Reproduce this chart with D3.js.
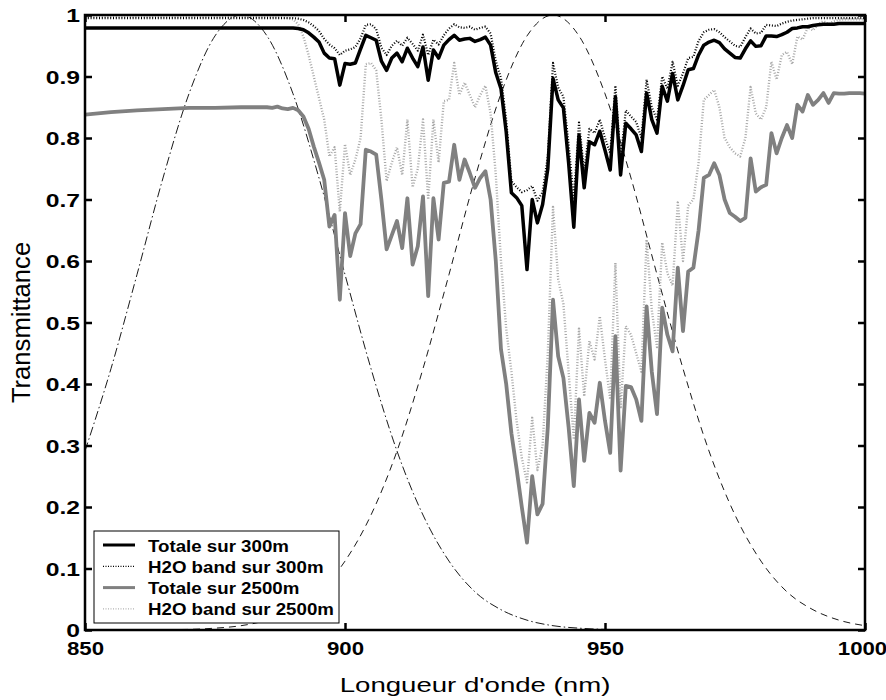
<!DOCTYPE html>
<html><head><meta charset="utf-8">
<script src="https://cdn.jsdelivr.net/npm/d3@7"></script>
<style>body{margin:0;background:#fff}svg{display:block}</style>
</head><body><svg id="chart" width="886" height="700"></svg>
<script>
// ---------- DATA ----------
const wavelengths = [850,855,860,865,870,875,880,885,886,887,888,889,890,891,892,893,894,895,896,897,898,899,
900,901,902,903,904,905,906,907,908,909,910,911,912,913,914,915,916,917,918,919,920,921,922,923,924,925,926,927,928,929,
930,931,932,933,934,935,936,937,938,939,940,941,942,943,944,945,946,947,948,949,950,951,952,953,954,955,956,957,958,959,
960,961,962,963,964,965,966,967,968,969,970,971,972,973,974,975,976,977,978,979,980,981,982,983,984,985,986,987,988,989,
990,991,992,993,994,995,996,997,998,999,1000];

const totale300 = [0.979,0.979,0.979,0.979,0.979,0.979,0.979,0.979,0.979,0.979,0.979,0.979,0.979,0.978,0.976,0.971,0.964,0.956,0.938,0.930,0.929,0.886,
0.921,0.920,0.922,0.945,0.967,0.963,0.959,0.925,0.910,0.930,0.938,0.924,0.946,0.930,0.916,0.948,0.894,0.943,0.930,0.951,0.960,0.967,0.959,0.961,0.962,0.957,0.960,0.964,0.951,0.906,
0.880,0.810,0.711,0.703,0.690,0.586,0.700,0.662,0.692,0.750,0.897,0.862,0.849,0.760,0.655,0.805,0.719,0.794,0.789,0.811,0.780,0.748,0.867,0.740,0.824,0.815,0.805,0.778,0.873,0.830,
0.808,0.884,0.860,0.905,0.862,0.885,0.911,0.913,0.935,0.951,0.956,0.959,0.955,0.945,0.938,0.931,0.930,0.945,0.958,0.949,0.950,0.966,0.966,0.965,0.968,0.972,0.978,0.979,0.981,0.981,
0.983,0.984,0.985,0.985,0.985,0.986,0.986,0.986,0.986,0.986,0.986];

const h2o300 = [0.995,0.995,0.995,0.995,0.995,0.995,0.995,0.995,0.995,0.995,0.995,0.995,0.995,0.994,0.992,0.988,0.982,0.974,0.961,0.952,0.946,0.935,
0.942,0.944,0.948,0.962,0.984,0.985,0.977,0.947,0.935,0.950,0.958,0.950,0.963,0.953,0.942,0.968,0.935,0.960,0.952,0.967,0.978,0.985,0.980,0.979,0.981,0.976,0.979,0.981,0.970,0.925,
0.897,0.830,0.730,0.720,0.712,0.715,0.722,0.698,0.712,0.770,0.922,0.882,0.867,0.790,0.700,0.825,0.745,0.815,0.808,0.830,0.800,0.775,0.885,0.765,0.845,0.835,0.826,0.800,0.895,0.850,
0.830,0.900,0.880,0.924,0.885,0.905,0.930,0.932,0.958,0.972,0.976,0.977,0.972,0.964,0.957,0.950,0.948,0.964,0.978,0.970,0.971,0.984,0.983,0.982,0.986,0.989,0.991,0.992,0.993,0.994,
0.995,0.995,0.995,0.995,0.995,0.995,0.995,0.995,0.995,0.995,0.995];

const totale2500 = [0.838,0.842,0.845,0.847,0.849,0.849,0.850,0.850,0.849,0.851,0.848,0.847,0.849,0.845,0.835,0.815,0.786,0.760,0.732,0.656,0.675,0.537,
0.678,0.608,0.645,0.660,0.781,0.778,0.773,0.700,0.619,0.642,0.665,0.621,0.702,0.594,0.624,0.705,0.543,0.702,0.635,0.727,0.729,0.789,0.732,0.765,0.743,0.719,0.735,0.746,0.700,0.600,
0.456,0.400,0.320,0.262,0.200,0.142,0.250,0.188,0.205,0.330,0.537,0.445,0.410,0.330,0.234,0.375,0.275,0.353,0.337,0.402,0.340,0.288,0.478,0.259,0.397,0.395,0.375,0.340,0.526,0.420,
0.351,0.524,0.480,0.453,0.589,0.486,0.583,0.589,0.650,0.735,0.740,0.759,0.740,0.700,0.678,0.672,0.665,0.670,0.767,0.713,0.720,0.724,0.808,0.775,0.800,0.821,0.800,0.854,0.843,0.870,
0.854,0.862,0.873,0.857,0.873,0.872,0.872,0.873,0.873,0.873,0.872];

const h2o2500 = [0.997,0.997,0.997,0.997,0.997,0.997,0.997,0.997,0.997,0.996,0.996,0.995,0.993,0.985,0.965,0.935,0.900,0.865,0.830,0.770,0.785,0.680,
0.790,0.740,0.765,0.800,0.920,0.922,0.910,0.830,0.730,0.760,0.785,0.740,0.830,0.720,0.750,0.830,0.700,0.830,0.760,0.860,0.862,0.922,0.870,0.890,0.870,0.850,0.870,0.885,0.840,0.740,
0.600,0.490,0.420,0.340,0.280,0.240,0.345,0.260,0.300,0.450,0.688,0.570,0.530,0.420,0.310,0.490,0.380,0.470,0.440,0.510,0.440,0.375,0.597,0.360,0.494,0.480,0.450,0.420,0.635,0.520,
0.460,0.630,0.580,0.560,0.695,0.600,0.690,0.700,0.760,0.862,0.870,0.878,0.850,0.800,0.785,0.775,0.770,0.800,0.883,0.840,0.830,0.850,0.924,0.895,0.935,0.940,0.920,0.965,0.960,0.980,
0.975,0.985,0.990,0.985,0.990,0.992,0.993,0.993,0.993,0.993,0.993];

// filter response curves (sampled every 5 nm)
const filterWavelengths = [850,855,860,865,870,875,880,885,890,895,900,905,910,915,920,925,930,935,940,945,950,955,960,965,970,975,980,985,990,995,1000];
const filter880 = [0.291,0.425,0.578,0.735,0.872,0.966,1,0.966,0.872,0.735,0.578,0.425,0.291,0.187,0.112,0.062,0.033,0.016,0.007,0.003,0.001,0.0005,0.0002,0,0,0,0,0,0,0,0];
const filter940 = [0,0,0.0002,0.0005,0.001,0.003,0.007,0.016,0.033,0.062,0.112,0.187,0.291,0.425,0.578,0.735,0.872,0.966,1,0.966,0.872,0.735,0.578,0.425,0.291,0.187,0.112,0.062,0.033,0.016,0.007];

const xTicks = [850,900,950,1000];
const yTicks = [0,0.1,0.2,0.3,0.4,0.5,0.6,0.7,0.8,0.9,1];
const yTickLabels = ["0","0.1","0.2","0.3","0.4","0.5","0.6","0.7","0.8","0.9","1"];
const legendLabels = ["Totale sur 300m","H2O band sur 300m","Totale sur 2500m","H2O band sur 2500m"];
const xTitle = "Longueur d'onde (nm)";
const yTitle = "Transmittance";

// ---------- LAYOUT ----------
const W = 886, H = 700;
const m = {left:85, top:15, right:21, bottom:70};
const pw = W - m.left - m.right, ph = H - m.top - m.bottom;
const svg = d3.select("#chart");
const x = d3.scaleLinear().domain([850,1000]).range([0,pw]);
const y = d3.scaleLinear().domain([0,1]).range([ph,0]);
const g = svg.append("g").attr("transform",`translate(${m.left},${m.top})`);

g.append("clipPath").attr("id","clip").append("rect").attr("width",pw).attr("height",ph);

const styles = [
  {data: h2o2500, color:"#a8a8a8", width:2.4, dash:"1,1.8"},
  {data: totale2500, color:"#808080", width:3.8, dash:null},
  {data: h2o300, color:"#000", width:2.2, dash:"1,1.8"},
  {data: totale300, color:"#000", width:3.5, dash:null}
];
const line = d3.line().x(d=>x(d[0])).y(d=>y(d[1]));
const plot = g.append("g").attr("clip-path","url(#clip)");

// filter curves
const fline = d3.line().x(d=>x(d[0])).y(d=>y(d[1])).curve(d3.curveMonotoneX);
plot.append("path").datum(filterWavelengths.map((w,i)=>[w,filter880[i]]))
  .attr("d",fline).attr("fill","none").attr("stroke","#000").attr("stroke-width",0.9)
  .attr("stroke-dasharray","9,3,1.5,3");
plot.append("path").datum(filterWavelengths.map((w,i)=>[w,filter940[i]]))
  .attr("d",fline).attr("fill","none").attr("stroke","#000").attr("stroke-width",0.9)
  .attr("stroke-dasharray","7,5");

styles.forEach(s=>{
  plot.append("path").datum(wavelengths.map((w,i)=>[w,s.data[i]]))
    .attr("d",line).attr("fill","none").attr("stroke",s.color)
    .attr("stroke-width",s.width).attr("stroke-linejoin","round")
    .attr("stroke-dasharray",s.dash);
});

// axes (ticks inward)
const tickFont = "'Liberation Sans', Arial, sans-serif";
const xb = g.append("g").attr("transform",`translate(0,${ph})`)
  .call(d3.axisBottom(x).tickValues(xTicks).tickSizeInner(-7).tickSizeOuter(0).tickFormat(d3.format("d")));
const xt = g.append("g").call(d3.axisTop(x).tickValues(xTicks).tickSizeInner(-7).tickSizeOuter(0).tickFormat(""));
const yl = g.append("g").call(d3.axisLeft(y).tickValues(yTicks).tickSizeInner(-7).tickSizeOuter(0).tickFormat((d,i)=>yTickLabels[i]));
const yr = g.append("g").attr("transform",`translate(${pw},0)`)
  .call(d3.axisRight(y).tickValues(yTicks).tickSizeInner(-7).tickSizeOuter(0).tickFormat(""));
[xb,xt,yl,yr].forEach(a=>{
  a.select(".domain").remove();
  a.selectAll(".tick line").attr("stroke","#000").attr("stroke-width",2.5);
});
xb.selectAll(".tick text").attr("y",null).attr("dy",null)
  .attr("transform",(d,i)=>`translate(${i===xTicks.length-1?-3:0},25) scale(1.17,1)`)
  .attr("font-family",tickFont).attr("font-weight","bold").attr("font-size",19).attr("fill","#000");
yl.selectAll(".tick text").attr("x",null).attr("dy",null)
  .attr("transform","translate(-5,6.5) scale(1.3,1)")
  .attr("font-family",tickFont).attr("font-weight","bold").attr("font-size",19).attr("fill","#000")
  .attr("text-anchor","end");

g.append("rect").attr("width",pw).attr("height",ph).attr("fill","none")
  .attr("stroke","#000").attr("stroke-width",2.5);

// axis titles
svg.append("text").attr("transform",`translate(${m.left+pw/2},692) scale(1.38,1)`)
  .attr("text-anchor","middle").attr("font-family",tickFont).attr("font-size",20).text(xTitle);
svg.append("text").attr("transform",`translate(30,${m.top+ph/2}) rotate(-90) scale(1.28,1.3)`)
  .attr("text-anchor","middle").attr("font-family",tickFont).attr("font-size",20).text(yTitle);

// legend
const lg = svg.append("g").attr("transform","translate(94,531)");
lg.append("rect").attr("width",245).attr("height",92).attr("fill","#fff").attr("stroke","#000").attr("stroke-width",1);
const legStyles = [
  {color:"#000", width:3, dash:null},
  {color:"#000", width:1.3, dash:"1,1.5"},
  {color:"#808080", width:3, dash:null},
  {color:"#b2b2b2", width:1.3, dash:"1,1.5"}
];
legendLabels.forEach((lab,i)=>{
  const yy = 14 + i*21.3;
  lg.append("line").attr("x1",9).attr("x2",41).attr("y1",yy).attr("y2",yy)
    .attr("stroke",legStyles[i].color).attr("stroke-width",legStyles[i].width)
    .attr("stroke-dasharray",legStyles[i].dash);
  lg.append("text").attr("transform",`translate(54,${yy+6.5}) scale(1.1,1)`)
    .attr("font-family",tickFont).attr("font-weight","bold").attr("font-size",17).text(lab);
});
</script></body></html>
